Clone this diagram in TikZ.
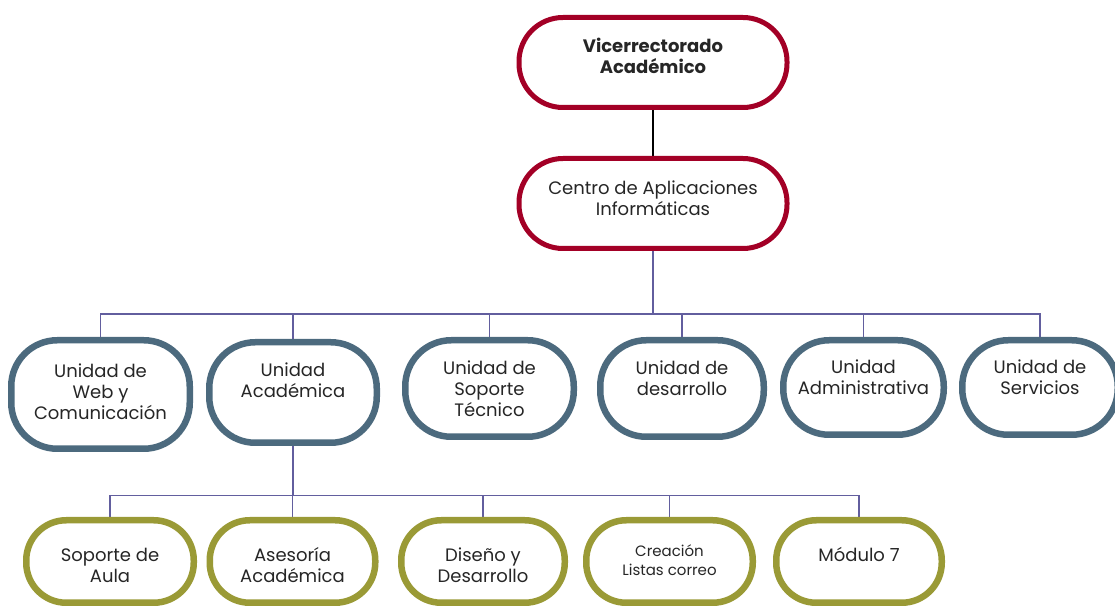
\documentclass[tikz,border=0pt]{standalone}
\usepackage{fontspec}
\setmainfont{Poppins}
\usepackage{xcolor}
\definecolor{vicered}{RGB}{163,0,38}
\definecolor{unitblue}{RGB}{76,106,126}
\definecolor{modolive}{RGB}{154,154,54}
\definecolor{linkpurple}{RGB}{98,94,158}
\usetikzlibrary{backgrounds}
\newcommand{\boxtext}[2][0pt]{\raisebox{#1}[0pt][0pt]{\begin{tabular}[t]{@{}c@{}}#2\end{tabular}}}

\begin{document}
\begin{tikzpicture}[
  x=0.5pt, y=-0.5pt,
  every node/.style={draw, fill=white, inner sep=0pt, text=black!85, font=\fontsize{9}{10.5}\selectfont},
  head/.style={draw=vicered, line width=2.5pt, rounded corners=22pt, minimum width=134pt, minimum height=45pt},
  unit/.style={draw=unitblue, line width=3.25pt, rounded corners=23pt},
  module/.style={draw=modolive, line width=3.25pt, rounded corners=20pt, minimum height=41.25pt},
  link/.style={draw=linkpurple, line width=0.9pt}
]
\useasboundingbox (0,0) rectangle (1115,608);

% head of the chart
\node[head, font=\fontsize{9}{10.5}\selectfont\bfseries] (vra) at (653,62.5) {\boxtext[5.1pt]{Vicerrectorado\\Académico}};
\node[head] (cai) at (653,203.5) {\boxtext[4.25pt]{Centro de Aplicaciones\\Informáticas}};

% units
\node[unit, minimum width=89.25pt, minimum height=54.25pt] (web) at (100.5,394.5) {\boxtext[8.25pt]{Unidad de\\Web y\\Comunicación}};
\node[unit, minimum width=83.75pt, minimum height=50.25pt] (acad) at (293,392.5) {\boxtext[7.9pt]{Unidad\\Académica}};
\node[unit, minimum width=84.25pt, minimum height=48.25pt] (sop) at (489.5,388.5) {\boxtext[6.75pt]{Unidad de\\Soporte\\Técnico}};
\node[unit, minimum width=81.75pt, minimum height=48.25pt] (des) at (682,388.5) {\boxtext[6.75pt]{Unidad de\\desarrollo}};
\node[unit, minimum width=80.25pt, minimum height=47.25pt] (adm) at (863.5,387.5) {\boxtext[6.75pt]{Unidad\\Administrativa}};
\node[unit, minimum width=77.75pt, minimum height=47.25pt] (serv) at (1040,387.5) {\boxtext[6.75pt]{Unidad de\\Servicios}};

% modules under Unidad Academica
\node[module, minimum width=83.75pt] (aula) at (110,561.5) {\boxtext{Soporte de\\Aula}};
\node[module, minimum width=82.75pt] (ases) at (292.5,561.5) {\boxtext{Asesoría\\Académica}};
\node[module, minimum width=81.75pt] (dis) at (483,561.5) {\boxtext{Diseño y\\Desarrollo}};
\node[module, minimum width=83.25pt, font=\fontsize{7.5}{9.5}\selectfont] (crea) at (669.5,561.5) {\boxtext[2.4pt]{Creación\\Listas correo}};
\node[module, minimum width=82.75pt] (mod) at (859,561.5) {\boxtext{Módulo 7}};

\coordinate (bus1) at (653,314);
\coordinate (bus2) at (293,495.5);

\begin{scope}[on background layer]
\draw[line width=0.75pt] (vra) -- (cai);
\foreach \u in {web,acad,sop,des,adm,serv}
  \draw[link] (cai.south) |- (bus1) -| (\u.north);
\foreach \m in {aula,ases,dis,crea,mod}
  \draw[link] (acad.south) |- (bus2) -| (\m.north);
\end{scope}

\end{tikzpicture}
\end{document}
